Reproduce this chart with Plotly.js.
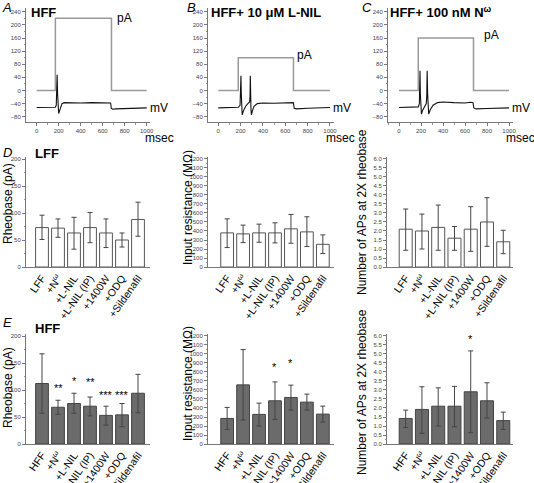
<!DOCTYPE html>
<html><head><meta charset="utf-8">
<script src="https://cdn.plot.ly/plotly-3.0.1.min.js"></script>
<style>html,body{margin:0;padding:0;background:#fff}#c{width:534px;height:483px}</style>
</head><body><div id="c"></div>
<script>
// ---------- data ----------
const categoriesLFF = ['LFF','+N<sup>ω</sup>','+L-NIL','+L-NIL (IP)','+1400W','+ODQ','+Sildenafil'];
const categoriesHFF = ['HFF','+N<sup>ω</sup>','+L-NIL','+L-NIL (IP)','+1400W','+ODQ','+Sildenafil'];

const lffRheobase     = [73, 72, 63, 73, 63, 50, 88];
const lffRheobaseHi   = [96, 89, 92, 101, 89, 63, 120];
const lffRheobaseLo   = [51, 55, 33, 45, 36, 37, 57];

const lffResistance   = [379, 368, 379, 379, 424, 390, 252];
const lffResistanceHi = [535, 465, 476, 491, 584, 558, 357];
const lffResistanceLo = [216, 271, 275, 268, 264, 227, 149];

const lffAPs          = [2.1, 2.0, 2.2, 1.6, 2.1, 2.5, 1.4];
const lffAPsHi        = [3.22, 2.94, 3.44, 2.25, 3.35, 3.85, 2.04];
const lffAPsLo        = [0.93, 1.0, 0.93, 0.93, 0.87, 1.15, 0.74];

const hffRheobase     = [112, 68, 75, 70, 53, 54, 94];
const hffRheobaseHi   = [167, 81, 94, 87, 70, 75, 129];
const hffRheobaseLo   = [57, 55, 57, 52, 35, 32, 58];

const hffResistance   = [284, 657, 329, 480, 517, 465, 332];
const hffResistanceHi = [406, 1049, 454, 690, 654, 554, 421];
const hffResistanceLo = [162, 266, 200, 273, 377, 377, 244];

const hffAPs          = [1.42, 1.92, 2.1, 2.1, 2.9, 2.4, 1.3];
const hffAPsHi        = [1.88, 3.18, 3.12, 3.2, 5.17, 3.4, 1.77];
const hffAPsLo        = [0.92, 0.59, 1.0, 0.96, 0.63, 1.44, 0.81];

// significance stars: [category index, y value, label]
const starsRheobase   = [[1, 104, '**'], [2, 116, '*'], [3, 114, '**'], [4, 90, '***'], [5, 90, '***']];
const starsResistance = [[1, 1225, '***'], [3, 857, '*'], [4, 900, '*']];
const starsAPs        = [[4, 5.85, '*']];

// traces (time in msec)
const stepTimeA = [0, 170, 170, 680, 680, 1000];
const stepPA_A  = [0, 0, 220, 220, 0, 0];
const stepTimeB = [0, 179, 179, 673, 673, 1000];
const stepPA_B  = [0, 0, 100, 100, 0, 0];
const stepTimeC = [0, 175, 175, 677, 677, 1000];
const stepPA_C  = [0, 0, 160, 160, 0, 0];

const vTimeA = [0,150,170,178,182,186,190,195,200,208,218,230,250,300,400,500,600,650,672,678,690,720,800,900,1000];
const vmA    = [-52,-52,-51,-45,-10,48,-10,-60,-70,-62,-48,-40,-37,-38,-38,-37,-37,-36,-38,-54,-57,-56,-55,-54,-53];
const vTimeB = [0,150,180,195,200,203,206,210,214,225,245,265,280,284,287,290,293,297,305,320,350,400,500,600,650,672,680,700,800,900,1000];
const vmB    = [-53,-53,-51,-45,-10,45,-10,-60,-74,-62,-48,-40,-35,-20,45,-10,-60,-74,-62,-48,-40,-38,-39,-37,-36,-37,-54,-56,-54,-53,-52];
const vTimeC = [0,150,175,185,188,191,194,198,204,215,235,248,252,256,260,264,270,285,310,350,400,500,600,650,672,680,700,800,900,1000];
const vmC    = [-52,-52,-50,-40,-5,60,-10,-60,-72,-60,-45,-40,-20,60,-10,-60,-72,-58,-45,-37,-35,-37,-38,-36,-37,-53,-56,-55,-54,-53];

// ---------- helpers ----------
const W = 534, H = 483;
const px = x => x / W;
const py = y => 1 - y / H;
const FONT = 'Arial, "Liberation Sans", sans-serif';
const traces = [];
const annotations = [];

function ann(text, x, y, o) {
  annotations.push(Object.assign({text, x: px(x), y: py(y), xref: 'paper', yref: 'paper',
    showarrow: false, xanchor: 'center', yanchor: 'middle',
    font: {family: FONT, size: 14, color: '#000'}}, o || {}));
}

function stepTrace(t, v, ax) {
  traces.push({x: t, y: v, type: 'scatter', mode: 'lines', xaxis: 'x' + ax, yaxis: 'y' + ax,
    line: {color: '#9a9a9a', width: 1.5}, hoverinfo: 'skip'});
}
function vTrace(t, v, ax) {
  traces.push({x: t, y: v, type: 'scatter', mode: 'lines', xaxis: 'x' + ax, yaxis: 'y' + ax,
    line: {color: '#111', width: 1.1}, hoverinfo: 'skip'});
}
function barTrace(cats, vals, hi, lo, ax, filled) {
  traces.push({x: cats, y: vals, type: 'bar', xaxis: 'x' + ax, yaxis: 'y' + ax, width: 0.8,
    marker: {color: filled ? '#6b6b6b' : '#ffffff', line: {color: filled ? '#444' : '#555', width: 1}},
    error_y: {type: 'data', symmetric: false,
      array: hi.map((h, i) => h - vals[i]), arrayminus: vals.map((v, i) => v - lo[i]),
      color: '#444', thickness: 1, width: 2.5}, hoverinfo: 'skip'});
}
function stars(list, cats, ax) {
  list.forEach(s => annotations.push({text: s[2], x: cats[s[0]], y: s[1], xref: 'x' + ax, yref: 'y' + ax,
    showarrow: false, xanchor: 'center', yanchor: 'middle', font: {family: FONT, size: 11, color: '#000'}}));
}

const tickFont = {family: FONT, size: 6, color: '#444'};
function linAxis(dom, range, dtick, minorDtick, fmt) {
  return {domain: dom, range: range, showgrid: false, zeroline: false, showline: true, linecolor: '#777', linewidth: 1,
    ticks: 'outside', ticklen: 3, tickwidth: 1, tickcolor: '#777', dtick: dtick, tick0: 0, tickfont: tickFont,
    tickformat: fmt || '', minor: {dtick: minorDtick, ticks: 'outside', ticklen: 1.5, tickcolor: '#999', showgrid: false},
    fixedrange: true};
}
function catAxis(dom, range) {
  return {domain: dom, range: range, type: 'category', showgrid: false, zeroline: false, showline: true,
    linecolor: '#777', linewidth: 1, ticks: '', tickangle: -55,
    tickfont: {family: FONT, size: 10.5, color: '#000'}, fixedrange: true};
}

// ---------- top row ----------
stepTrace(stepTimeA, stepPA_A, ''); vTrace(vTimeA, vmA, '');
stepTrace(stepTimeB, stepPA_B, 2); vTrace(vTimeB, vmB, 2);
stepTrace(stepTimeC, stepPA_C, 3); vTrace(vTimeC, vmC, 3);
traces.slice(0, 2).forEach(t => { t.xaxis = 'x'; t.yaxis = 'y'; });

// ---------- bars ----------
barTrace(categoriesLFF, lffRheobase, lffRheobaseHi, lffRheobaseLo, 4, false);
barTrace(categoriesLFF, lffResistance, lffResistanceHi, lffResistanceLo, 5, false);
barTrace(categoriesLFF, lffAPs, lffAPsHi, lffAPsLo, 6, false);
barTrace(categoriesHFF, hffRheobase, hffRheobaseHi, hffRheobaseLo, 7, true);
barTrace(categoriesHFF, hffResistance, hffResistanceHi, hffResistanceLo, 8, true);
barTrace(categoriesHFF, hffAPs, hffAPsHi, hffAPsLo, 9, true);
stars(starsRheobase, categoriesHFF, 7);
stars(starsResistance, categoriesHFF, 8);
stars(starsAPs, categoriesHFF, 9);

const topY = [py(122), py(8)];
const midY = [py(267), py(157)];
const botY = [py(444), py(334)];
const colL = [px(26), px(150)], colM = [px(208), px(334)], colR = [px(387), px(513)];

const layout = {
  width: W, height: H, margin: {l: 0, r: 0, t: 0, b: 0}, showlegend: false,
  paper_bgcolor: '#fff', plot_bgcolor: 'rgba(0,0,0,0)', bargap: 0.2,
  xaxis:  linAxis(colL, [-97, 1030], 200, 100),
  yaxis:  linAxis(topY, [-96, 251.5], 40, 20),
  xaxis2: linAxis([px(208), px(334)], [-92, 1036], 200, 100),
  yaxis2: linAxis(topY, [-96, 251.5], 40, 20),
  xaxis3: linAxis([px(388), px(513)], [-100, 1036], 200, 100),
  yaxis3: linAxis(topY, [-96, 251.5], 40, 20),
  xaxis4: catAxis(colL, [-1, 6.75]),
  yaxis4: linAxis(midY, [0, 203.7], 50, 25),
  xaxis5: catAxis(colM, [-1.2, 6.7]),
  yaxis5: linAxis(midY, [0, 1222], 100, 50),
  xaxis6: catAxis(colR, [-1.15, 6.6]),
  yaxis6: linAxis(midY, [0, 6.11], 0.5, 0.25, '.1f'),
  xaxis7: catAxis(colL, [-1, 6.75]),
  yaxis7: linAxis(botY, [0, 203.7], 50, 25),
  xaxis8: catAxis(colM, [-1.2, 6.7]),
  yaxis8: linAxis(botY, [0, 1222], 100, 50),
  xaxis9: catAxis(colR, [-1.15, 6.6]),
  yaxis9: linAxis(botY, [0, 6.11], 0.5, 0.25, '.1f'),
  annotations: annotations
};
for (let i = 2; i <= 9; i++) { layout['xaxis' + i].anchor = 'y' + i; layout['yaxis' + i].anchor = 'x' + i; }
layout.xaxis.anchor = 'y'; layout.yaxis.anchor = 'x';

// ---------- text ----------
const boldT = {family: FONT, size: 13, color: '#000', weight: 'bold'};
const letter = {family: FONT, size: 13, color: '#000', style: 'italic'};
ann('A', 7, 8, {font: letter});
ann('B', 191, 8, {font: letter});
ann('C', 367, 8, {font: letter});
ann('D', 7, 152, {font: letter});
ann('E', 7, 322, {font: letter});
ann('<b>HFF</b>', 44, 12, {font: boldT});
ann('<b>HFF+ 10 μM L-NIL</b>', 266, 12, {font: boldT});
ann('<b>HFF+ 100 nM N<sup>ω</sup></b>', 441, 12, {font: boldT});
ann('<b>LFF</b>', 47, 153, {font: boldT});
ann('<b>HFF</b>', 47, 328, {font: boldT});

const unitF = {family: FONT, size: 12, color: '#000'};
[['', 712, 221, 1012], [2, 690, 108, 1005], [3, 757, 168, 1010]].forEach(r => {
  const ax = r[0];
  annotations.push({text: 'pA', x: r[1], y: r[2], xref: 'x' + ax, yref: 'y' + ax, showarrow: false,
    xanchor: 'left', yanchor: 'middle', font: unitF});
  annotations.push({text: 'mV', x: r[3], y: -52, xref: 'x' + ax, yref: 'y' + ax, showarrow: false,
    xanchor: 'left', yanchor: 'middle', font: unitF});
});
ann('msec', 159, 138, {font: unitF});
ann('msec', 340, 138, {font: unitF});
ann('msec', 520, 138, {font: unitF});

const axT = {family: FONT, size: 12, color: '#000'};
ann('Rheobase (pA)', 8, 204, {textangle: -90, font: axT});
ann('Rheobase (pA)', 8, 388, {textangle: -90, font: axT});
ann('Input resistance (MΩ)', 188, 208, {textangle: -90, font: axT});
ann('Input resistance (MΩ)', 188, 384, {textangle: -90, font: axT});
ann('Number of APs at 2X rheobase', 362, 212, {textangle: -90, font: axT});
ann('Number of APs at 2X rheobase', 362, 392, {textangle: -90, font: axT});

Plotly.newPlot('c', traces, layout, {displayModeBar: false, staticPlot: true});
</script></body></html>
